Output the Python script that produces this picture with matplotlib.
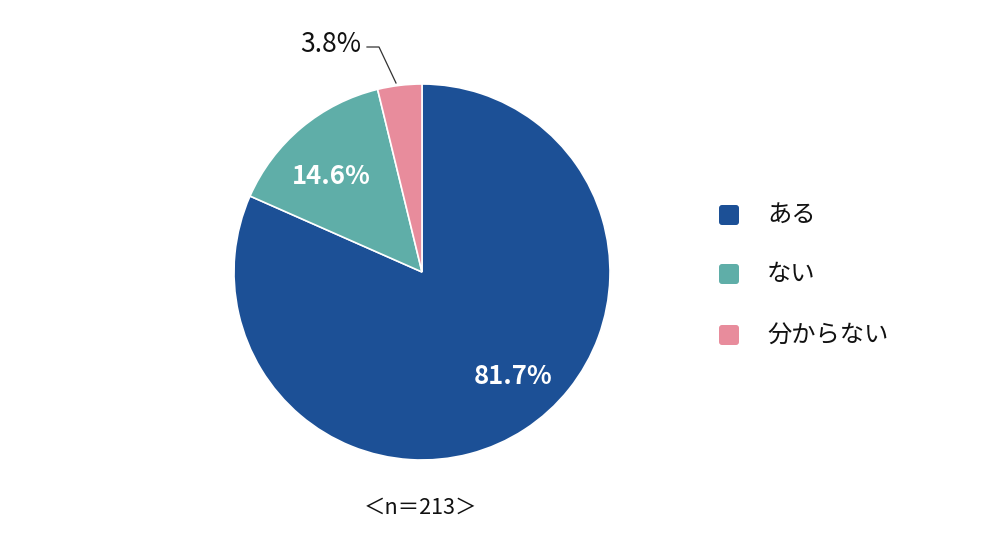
import matplotlib
matplotlib.use("Agg")
import matplotlib.pyplot as plt
from matplotlib.patches import FancyBboxPatch

plt.rcParams['font.family'] = ['Noto Sans CJK JP', 'DejaVu Sans']

categories = ['ある', 'ない', '分からない']
values = [81.7, 14.6, 3.8]
colors = ['#1C5096', '#5FAEA8', '#E88C9C']
sample_note = '＜n＝213＞'

W, H = 1000, 559
fig = plt.figure(figsize=(W / 100, H / 100), dpi=100)
ax = fig.add_axes([0, 0, 1, 1])

cx, cy, R = 422, 272, 188
# y-axis is inverted below: data angle -90 is screen top, and
# counterclockwise in data renders clockwise on screen
wedges, _ = ax.pie(values, colors=colors, startangle=-90, counterclock=True,
                   center=(cx, cy), radius=R, frame=True,
                   wedgeprops=dict(edgecolor='white', linewidth=1.2))
ax.set_xlim(0, W)
ax.set_ylim(H, 0)
ax.set_aspect('equal')
ax.axis('off')

ax.text(513, 376, f'{values[0]}%', color='white', fontsize=18.5, fontweight='bold',
        ha='center', va='center')
ax.text(331, 177, f'{values[1]}%', color='white', fontsize=18.5, fontweight='bold',
        ha='center', va='center')
ax.text(331, 44, f'{values[2]}%', color='#111111', fontsize=19,
        ha='center', va='center')
ax.plot([367, 379, 396], [47, 47, 83], color='#333333', linewidth=0.9)

ys = [215, 274, 335]
for c, lab, y in zip(colors, categories, ys):
    ax.add_patch(FancyBboxPatch((719, y - 10), 20, 20,
                                boxstyle='round,pad=0,rounding_size=3',
                                facecolor=c, edgecolor='none'))
    ax.text(767, y, lab, fontsize=17.5, ha='left', va='center', color='#111111')

ax.text(420, 508, sample_note, fontsize=15.5, ha='center', va='center', color='#111111')

fig.savefig('out.png', dpi=100)
